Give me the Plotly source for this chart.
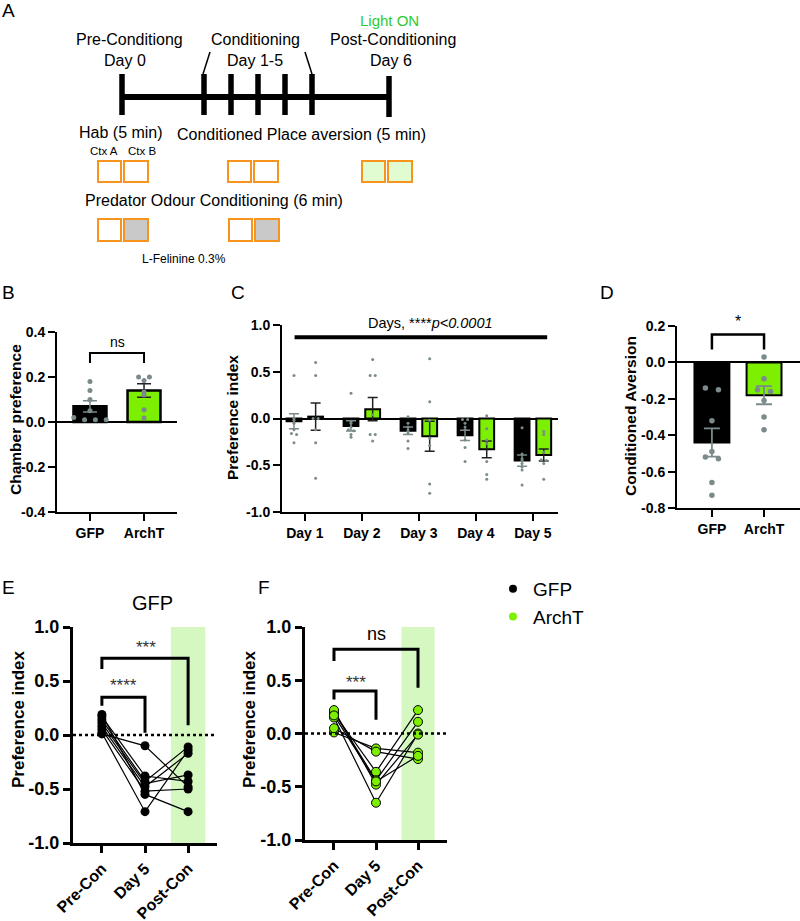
import numpy as np
import plotly.graph_objects as go

FONT = "Arial, 'Liberation Sans', sans-serif"
W, H = 800, 921
LIME = "#7CF000"
PALE = "#D4F8C0"
GREY = "#7B8A8B"

# ---------------- data ----------------
# B: chamber preference (habituation)
b_groups = ["GFP", "ArchT"]
b_mean = [0.07, 0.14]
b_sem = [0.025, 0.03]
b_gfp_pts = [0.18, 0.14, 0.10, 0.05, 0.01, 0.01, 0.01, 0.02]
b_archt_pts = [0.20, 0.185, 0.20, 0.133, 0.12, 0.055, 0.018]

# C: preference index per conditioning day
days = ["Day 1", "Day 2", "Day 3", "Day 4", "Day 5"]
c_gfp_mean = [-0.03, -0.08, -0.13, -0.18, -0.45]
c_gfp_sem = [0.08, 0.055, 0.04, 0.055, 0.06]
c_archt_mean = [0.02, 0.10, -0.19, -0.33, -0.39]
c_archt_sem = [0.145, 0.125, 0.16, 0.09, 0.065]
c_gfp_pts = [[0.46, 0.0, -0.02, -0.05, -0.12, -0.16, -0.17, -0.26],
             [0.27, -0.03, -0.05, -0.09, -0.12, -0.13, -0.17, -0.20],
             [0.02, -0.05, -0.09, -0.12, -0.14, -0.16, -0.24, -0.32],
             [-0.01, -0.01, -0.05, -0.09, -0.12, -0.23, -0.31, -0.46],
             [-0.10, -0.38, -0.43, -0.45, -0.48, -0.52, -0.55, -0.71]]
c_archt_pts = [[0.60, 0.46, 0.0, 0.0, -0.12, -0.26, -0.64],
               [0.63, 0.46, 0.46, 0.04, -0.17, -0.17, -0.24],
               [0.64, 0.18, -0.02, -0.21, -0.29, -0.70, -0.80],
               [0.03, -0.11, -0.23, -0.27, -0.46, -0.60, -0.65],
               [-0.14, -0.17, -0.36, -0.44, -0.45, -0.48, -0.65]]

# D: conditioned aversion
d_groups = ["GFP", "ArchT"]
d_mean = [-0.44, -0.18]
d_sem = [0.078, 0.05]
d_gfp_pts = [-0.15, -0.14, -0.32, -0.49, -0.52, -0.53, -0.66, -0.73]
d_archt_pts = [0.03, -0.09, -0.15, -0.16, -0.21, -0.30, -0.37]

# E / F: paired preference index
phases = ["Pre-Con", "Day 5", "Post-Con"]
e_pre = [0.01, 0.02, 0.19, 0.17, 0.14, 0.11, 0.08, 0.05]
e_day5 = [-0.10, -0.71, -0.55, -0.38, -0.43, -0.45, -0.48, -0.52]
e_post = [-0.48, -0.14, -0.71, -0.43, -0.11, -0.37, -0.17, -0.50]
f_pre = [0.19, 0.20, 0.15, 0.01, 0.05, 0.22, 0.17]
f_day5 = [-0.36, -0.44, -0.65, -0.14, -0.17, -0.48, -0.45]
f_post = [0.22, 0.11, 0.00, -0.18, -0.24, -0.01, -0.21]

# A: schematic (pixel units of the top strip)
tl_ticks_x = [122, 204, 231, 258, 285, 312, 389]
tl_span = [120, 391]
ctx_left = [98, 228, 362]
ctx_top_fill = ["white", "white", "#E2FCD2"]
pod_left = [98, 229]


def fy(py):
    return 1 - py / H


def swarm(vals, center, step, thr):
    order = np.argsort(vals)[::-1]
    xs = np.zeros(len(vals))
    cluster = []
    prev = None
    groups = []
    for i in order:
        if prev is not None and abs(vals[i] - prev) > thr:
            groups.append(cluster)
            cluster = []
        cluster.append(i)
        prev = vals[i]
    groups.append(cluster)
    for g in groups:
        n = len(g)
        for k, i in enumerate(g):
            xs[i] = center + (k - (n - 1) / 2) * step
    return list(xs)


fig = go.Figure()

# ---------------- panel B ----------------
b_cols = ["black", LIME]
b_ecols = [GREY, "#222222"]
for i, g in enumerate(b_groups):
    fig.add_bar(x=[i], y=[b_mean[i]], width=0.61, xaxis="x", yaxis="y",
                marker=dict(color=b_cols[i], line=dict(color="black", width=2.5)),
                error_y=dict(type="data", array=[b_sem[i]], color=b_ecols[i], thickness=1.5, width=7),
                showlegend=False)
for i, pts in enumerate([b_gfp_pts, b_archt_pts]):
    fig.add_scatter(x=swarm(pts, i, 0.2, 0.012), y=pts, mode="markers", xaxis="x", yaxis="y",
                    marker=dict(color=GREY, size=5), showlegend=False)
fig.add_scatter(x=[0, 0, 1, 1], y=[0.262, 0.307, 0.307, 0.262], mode="lines", xaxis="x", yaxis="y",
                line=dict(color="black", width=2), showlegend=False, cliponaxis=False)

# ---------------- panel C ----------------
dx = np.arange(len(days))
for off, mean, sem, col, ecol, pts in [(-0.19, c_gfp_mean, c_gfp_sem, "black", GREY, c_gfp_pts),
                                       (0.19, c_archt_mean, c_archt_sem, LIME, "#222222", c_archt_pts)]:
    fig.add_bar(x=dx + off, y=mean, width=0.26, xaxis="x2", yaxis="y2",
                marker=dict(color=col, line=dict(color="black", width=2)),
                error_y=dict(type="data", array=sem, color=ecol, thickness=1.5, width=5),
                showlegend=False)
    for j, p in enumerate(pts):
        fig.add_scatter(x=swarm(p, j + off, 0.09, 0.015), y=p, mode="markers", xaxis="x2", yaxis="y2",
                        marker=dict(color=GREY, size=3), showlegend=False)
fig.add_scatter(x=[-0.18, 4.25], y=[0.87, 0.87], mode="lines", xaxis="x2", yaxis="y2",
                line=dict(color="black", width=4), showlegend=False)

# ---------------- panel D ----------------
for i, g in enumerate(d_groups):
    fig.add_bar(x=[i], y=[d_mean[i]], width=0.67, xaxis="x3", yaxis="y3",
                marker=dict(color=b_cols[i], line=dict(color="black", width=2)),
                error_y=dict(type="data", array=[d_sem[i]], color=GREY, thickness=1.8, width=8),
                showlegend=False)
for i, pts in enumerate([d_gfp_pts, d_archt_pts]):
    fig.add_scatter(x=swarm(pts, i, 0.25, 0.02), y=pts, mode="markers", xaxis="x3", yaxis="y3",
                    marker=dict(color=GREY, size=5.5), showlegend=False)
fig.add_scatter(x=[0, 0, 1, 1], y=[0.071, 0.153, 0.153, 0.071], mode="lines", xaxis="x3", yaxis="y3",
                line=dict(color="black", width=2.5), showlegend=False, cliponaxis=False)


# ---------------- panels E, F ----------------
def paired(xa, ya, pre, d5, post, mcolor, mline, bwidth):
    fig.add_bar(x=[2], y=[2.04], base=[-1], width=bwidth, xaxis=xa, yaxis=ya,
                marker=dict(color=PALE, line=dict(width=0)), cliponaxis=False, showlegend=False,
                hoverinfo="skip")
    lx, ly = [], []
    for a, b, c in zip(pre, d5, post):
        lx += [0, 1, 2, None]
        ly += [a, b, c, None]
    fig.add_scatter(x=lx, y=ly, mode="lines", xaxis=xa, yaxis=ya,
                    line=dict(color="black", width=1.2), showlegend=False)
    px = [0] * len(pre) + [1] * len(d5) + [2] * len(post)
    fig.add_scatter(x=px, y=list(pre) + list(d5) + list(post), mode="markers", xaxis=xa, yaxis=ya,
                    marker=dict(color=mcolor, size=9, line=dict(color="black", width=mline)),
                    showlegend=False, cliponaxis=False)


paired("x4", "y4", e_pre, e_day5, e_post, "black", 0, 0.8)
paired("x5", "y5", f_pre, f_day5, f_post, LIME, 1, 0.79)

fig.add_scatter(x=[0, 0, 1, 1], y=[0.27, 0.35, 0.35, 0.02], mode="lines", xaxis="x4", yaxis="y4",
                line=dict(color="black", width=3), showlegend=False)
fig.add_scatter(x=[0, 0, 2, 2], y=[0.61, 0.71, 0.71, 0.09], mode="lines", xaxis="x4", yaxis="y4",
                line=dict(color="black", width=3), showlegend=False)
fig.add_scatter(x=[0, 0, 1, 1], y=[0.32, 0.40, 0.40, 0.13], mode="lines", xaxis="x5", yaxis="y5",
                line=dict(color="black", width=3), showlegend=False)
fig.add_scatter(x=[0, 0, 2, 2], y=[0.68, 0.79, 0.79, 0.43], mode="lines", xaxis="x5", yaxis="y5",
                line=dict(color="black", width=3), showlegend=False)

# legend entries
fig.add_scatter(x=[None], y=[None], mode="markers", name="GFP", xaxis="x4", yaxis="y4",
                marker=dict(color="black", size=8))
fig.add_scatter(x=[None], y=[None], mode="markers", name="ArchT", xaxis="x4", yaxis="y4",
                marker=dict(color=LIME, size=8))

# ---------------- panel A (schematic) ----------------
tl_x, tl_y = [], []
for k, x in enumerate(tl_ticks_x):
    y0, y1 = (76, 117) if k == len(tl_ticks_x) - 1 else (74, 115)
    tl_x += [x, x, None]
    tl_y += [y0, y1, None]
fig.add_scatter(x=tl_x, y=tl_y, mode="lines", xaxis="x6", yaxis="y6",
                line=dict(color="black", width=5.5), showlegend=False)
fig.add_scatter(x=tl_span, y=[97, 97], mode="lines", xaxis="x6", yaxis="y6",
                line=dict(color="black", width=6), showlegend=False)
fig.add_scatter(x=[210, 203, None, 305, 312], y=[52, 74, None, 52, 74], mode="lines",
                xaxis="x6", yaxis="y6", line=dict(color="black", width=1.5), showlegend=False)

shapes = []
ORANGE = "#F7941D"
for x0, fill in zip(ctx_left, ctx_top_fill):
    shapes.append(dict(type="rect", xref="x6", yref="y6", x0=x0, x1=x0 + 23, y0=161, y1=182,
                       line=dict(color=ORANGE, width=2), fillcolor=fill))
    shapes.append(dict(type="rect", xref="x6", yref="y6", x0=x0 + 26, x1=x0 + 50, y0=161, y1=182,
                       line=dict(color=ORANGE, width=2), fillcolor=fill))
for x0 in pod_left:
    shapes.append(dict(type="rect", xref="x6", yref="y6", x0=x0, x1=x0 + 23, y0=219, y1=241,
                       line=dict(color=ORANGE, width=2), fillcolor="white"))
    shapes.append(dict(type="rect", xref="x6", yref="y6", x0=x0 + 26, x1=x0 + 50, y0=219, y1=241,
                       line=dict(color=ORANGE, width=2), fillcolor="#C9C9C9"))
# dotted zero lines in E and F
for xa, ya in [("x4", "y4"), ("x5", "y5")]:
    shapes.append(dict(type="line", xref=xa + " domain", yref=ya, x0=0, x1=1, y0=0, y1=0,
                       line=dict(color="black", width=2.5, dash="dot")))

ann = []


def txt(x, y, s, size, xref="x6", yref="y6", color="black", **kw):
    ann.append(dict(x=x, y=y, xref=xref, yref=yref, text=s, showarrow=False,
                    xanchor="center", yanchor="middle",
                    font=dict(family=FONT, size=size, color=color), **kw))


txt(129, 39, "Pre-Conditiong", 16)
txt(125, 60, "Day 0", 16)
txt(255, 39, "Conditioning", 16)
txt(255, 60, "Day 1-5", 16)
txt(389, 20, "Light ON", 15, color="#2FCB2F")
txt(393, 39, "Post-Conditioning", 16)
txt(391, 60, "Day 6", 16)
txt(121, 132, "Hab (5 min)", 16)
txt(301, 134, "Conditioned Place aversion (5 min)", 16)
txt(104, 151, "Ctx A", 11.5)
txt(142, 151, "Ctx B", 11.5)
txt(214, 200, "Predator Odour Conditioning (6 min)", 16)
txt(184, 259, "L-Felinine 0.3%", 12)

# panel letters
for s, x, y in [("A", 8, 10), ("B", 8, 293), ("C", 238, 293), ("D", 607, 293),
                ("E", 8, 587), ("F", 264, 587)]:
    txt(x / W, fy(y), s, 19, xref="paper", yref="paper")

# axis titles
for s, x, y, size in [("Chamber preference", 15, 420, 15.5), ("Preference index", 232, 417, 15.5),
                      ("Conditioned Aversion", 630, 416, 15.5), ("Preference index", 18, 719, 17),
                      ("Preference index", 249, 719, 17)]:
    txt(x / W, fy(y), "<b>" + s + "</b>", size, xref="paper", yref="paper", textangle=-90)

# significance text
txt(0.5, 0.356, "ns", 14, xref="x", yref="y")
txt(430 / W, fy(323), "Days, ****<i>p&lt;0.0001</i>", 14.5, xref="paper", yref="paper")
txt(738 / W, fy(322), "*", 16, xref="paper", yref="paper")
txt(0.49, 0.46, "****", 17, xref="x4", yref="y4", color="#333333")
txt(1.02, 0.81, "***", 17, xref="x4", yref="y4", color="#333333")
txt(0.52, 0.48, "***", 17, xref="x5", yref="y5", color="#333333")
txt(1.02, 0.93, "ns", 18, xref="x5", yref="y5")
txt(152 / W, fy(603), "GFP", 20, xref="paper", yref="paper")


# ---------------- axes ----------------
def yax(dom, rng, vals, size, lw):
    return dict(domain=dom, range=rng, tickvals=vals, ticktext=["%.1f" % v for v in vals],
                showline=True, linecolor="black", linewidth=lw, ticks="outside", ticklen=7,
                tickwidth=lw, tickcolor="black", showgrid=False, zeroline=False, automargin=False,
                tickfont=dict(family=FONT, size=size, color="black", weight="bold"))


def xax(dom, rng, labels, size, lw, angle=0):
    return dict(domain=dom, range=rng, tickvals=list(range(len(labels))), ticktext=labels,
                showline=True, linecolor="black", linewidth=lw, ticks="outside", ticklen=7,
                tickwidth=lw, tickcolor="black", showgrid=False, zeroline=False, tickangle=angle,
                automargin=False,
                tickfont=dict(family=FONT, size=size, color="black", weight="bold"))


yb = yax([fy(512), fy(332)], [-0.4, 0.4], [-0.4, -0.2, 0.0, 0.2, 0.4], 14, 2)
yb.update(zeroline=True, zerolinecolor="black", zerolinewidth=2)
yc = yax([fy(512), fy(325)], [-1.0, 1.0], [-1.0, -0.5, 0.0, 0.5, 1.0], 14, 2)
yc.update(zeroline=True, zerolinecolor="black", zerolinewidth=2)
yd = yax([fy(508), fy(326)], [-0.8, 0.2], [-0.8, -0.6, -0.4, -0.2, 0.0, 0.2], 14, 2)
yd.update(zeroline=True, zerolinecolor="black", zerolinewidth=2)
ye = yax([fy(843), fy(627)], [-1.0, 1.0], [-1.0, -0.5, 0.0, 0.5, 1.0], 18, 3)
yf = yax([fy(840), fy(627)], [-1.0, 1.0], [-1.0, -0.5, 0.0, 0.5, 1.0], 18, 3)

fig.update_layout(
    template="none",
    width=W, height=H, margin=dict(l=0, r=0, t=0, b=0, pad=0, autoexpand=False),
    paper_bgcolor="white", plot_bgcolor="rgba(0,0,0,0)",
    font=dict(family=FONT, color="black"),
    barmode="overlay",
    xaxis=dict(xax([57 / W, 177 / W], [-0.61, 1.61], b_groups, 14, 2), anchor="y"),
    yaxis=dict(yb, anchor="x"),
    xaxis2=dict(xax([282 / W, 558 / W], [-0.40, 4.44], days, 14, 2), anchor="y2"),
    yaxis2=dict(yc, anchor="x2"),
    xaxis3=dict(xax([677 / W, 1.0], [-0.67, 1.69], d_groups, 14, 2), anchor="y3"),
    yaxis3=dict(yd, anchor="x3"),
    xaxis4=dict(xax([73 / W, 217 / W], [-0.67, 2.67], phases, 16, 3, -45), anchor="y4"),
    yaxis4=dict(ye, anchor="x4"),
    xaxis5=dict(xax([305 / W, 447 / W], [-0.69, 2.69], phases, 16, 3, -45), anchor="y5"),
    yaxis5=dict(yf, anchor="x5"),
    xaxis6=dict(domain=[0, 1], range=[0, W], visible=False, anchor="y6"),
    yaxis6=dict(domain=[fy(290), 1], range=[290, 0], visible=False, anchor="x6"),
    shapes=shapes, annotations=ann,
    legend=dict(x=493 / W, y=fy(570), xanchor="left", yanchor="top",
                font=dict(family=FONT, size=19, color="black"), bgcolor="rgba(0,0,0,0)",
                tracegroupgap=0, itemwidth=30),
)

# drop the default 8px body margin so the figure sits at the page origin
fig.write_html("out.html", config={"displayModeBar": False},
               post_script="document.body.style.margin='0px';")
